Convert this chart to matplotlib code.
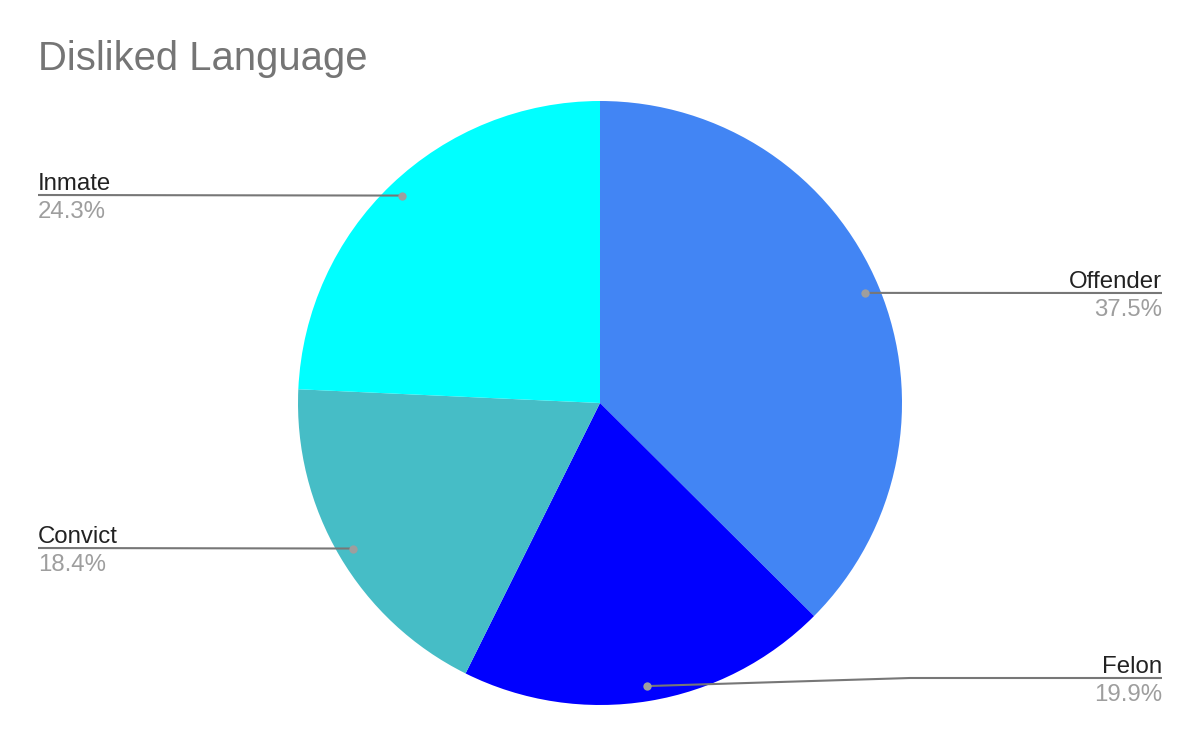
import numpy as np
import matplotlib
matplotlib.use("Agg")
import matplotlib.pyplot as plt

plt.rcParams['font.family'] = ['Liberation Sans', 'DejaVu Sans']

# data
labels = ["Offender", "Felon", "Convict", "Inmate"]
shares = [37.5, 19.9, 18.4, 24.3]
colors = ["#4285F4", "#0000FF", "#46BDC6", "#00FFFF"]

W, H = 1200, 742
CX, CY, R = 600, H - 403, 302

fig = plt.figure(figsize=(W / 100, H / 100), dpi=100)
ax = fig.add_axes([0, 0, 1, 1])

wedges, _ = ax.pie(shares, colors=colors, startangle=90, counterclock=False,
                   center=(CX, CY), radius=R, frame=True,
                   wedgeprops=dict(linewidth=0))
ax.set_xlim(0, W)
ax.set_ylim(0, H)
ax.set_aspect('equal')
ax.axis('off')

# label placement: (side, line y in px from top, optional elbow x)
layout = {
    "Offender": ("right", 293, None),
    "Felon": ("right", 678, 910),
    "Convict": ("left", 548, None),
    "Inmate": ("left", 195, None),
}

line_col = "#777777"
for w, name, val in zip(wedges, labels, shares):
    mid = np.deg2rad((w.theta1 + w.theta2) / 2)
    dx = CX + 0.95 * R * np.cos(mid)
    dy = CY + 0.95 * R * np.sin(mid)
    side, ly, elbow = layout[name]
    ly = H - ly
    xe = 1162 if side == "right" else 38
    if elbow is None:
        xs, ys = [dx, xe], [dy, ly]
    else:
        xs, ys = [dx, elbow, xe], [dy, ly, ly]
    ax.plot(xs, ys, color=line_col, lw=1.5, solid_capstyle='butt', zorder=3)
    ax.plot([dx], [dy], 'o', color="#9E9E9E", ms=6, mec='none', zorder=4)
    ha = 'right' if side == "right" else 'left'
    ax.text(xe, ly + 5, name, ha=ha, va='baseline', fontsize=17.3, color="#222222")
    ax.text(xe, ly - 6, f"{val}%", ha=ha, va='top', fontsize=17.3, color="#9E9E9E")

fig.text(38 / W, 1 - 70 / H, "Disliked Language", fontsize=28.8, color="#757575",
         ha='left', va='baseline')

fig.savefig("out.png", dpi=100)
